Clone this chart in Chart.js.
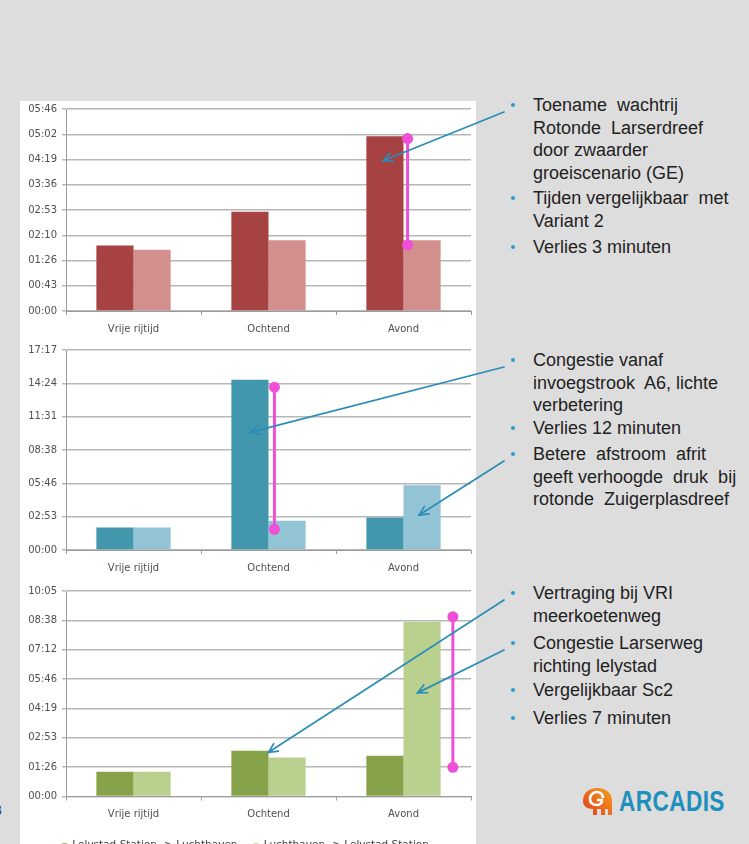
<!DOCTYPE html>
<html>
<head>
<meta charset="utf-8">
<script src="https://cdn.jsdelivr.net/npm/chart.js@4.4.1/dist/chart.umd.min.js"></script>
<style>
  html, body { margin: 0; padding: 0; }
  body {
    width: 749px; height: 844px; overflow: hidden; position: relative;
    background: #dddddd; font-family: "Liberation Sans", Arial, sans-serif;
  }
  #panel { position: absolute; left: 20px; top: 101px; width: 456px; height: 743px; background: #ffffff; }
  canvas.chart { position: absolute; left: 20px; }
  #overlay { position: absolute; left: 0; top: 0; pointer-events: none; z-index: 5; }
  .note {
    position: absolute; left: 511px; font-size: 18px; line-height: 22.5px;
    color: #222222; white-space: pre; z-index: 3;
  }
  .note .dot {
    position: absolute; left: 0; top: 9px; width: 4px; height: 4px;
    border-radius: 50%; background: #2a9dcc;
  }
  .note .txt { margin-left: 22px; }
  #slideno { position: absolute; left: -6px; top: 802px; font-size: 14px; color: #2244a0; }
  #logo { position: absolute; left: 581px; top: 786px; height: 30px; z-index: 3; }
  #logo svg { position: absolute; left: 0; top: 0; }
  #logo .name {
    position: absolute; left: 38px; top: -1px; font-size: 29px; font-weight: bold;
    color: #1d8fbc; transform: scaleX(0.78); transform-origin: 0 0; letter-spacing: 0.5px;
  }
</style>
</head>
<body>
<div id="panel"></div>
<canvas id="c1" class="chart" width="456" height="241" style="top:98px"></canvas>
<canvas id="c2" class="chart" width="456" height="239" style="top:339px"></canvas>
<canvas id="c3" class="chart" width="456" height="281" style="top:580px"></canvas>

<div class="note" id="n11" style="top:94px"><span class="dot"></span><div class="txt">Toename  wachtrij
Rotonde  Larserdreef
door zwaarder
groeiscenario (GE)</div></div>
<div class="note" style="top:187px"><span class="dot"></span><div class="txt">Tijden vergelijkbaar  met
Variant 2</div></div>
<div class="note" style="top:236px"><span class="dot"></span><div class="txt">Verlies 3 minuten</div></div>

<div class="note" id="n21" style="top:349px"><span class="dot"></span><div class="txt">Congestie vanaf
invoegstrook  A6, lichte
verbetering</div></div>
<div class="note" style="top:417px"><span class="dot"></span><div class="txt">Verlies 12 minuten</div></div>
<div class="note" id="n23" style="top:443px"><span class="dot"></span><div class="txt">Betere  afstroom  afrit
geeft verhoogde  druk  bij
rotonde  Zuigerplasdreef</div></div>

<div class="note" id="n31" style="top:582px"><span class="dot"></span><div class="txt">Vertraging bij VRI
meerkoetenweg</div></div>
<div class="note" id="n32" style="top:632px"><span class="dot"></span><div class="txt">Congestie Larserweg
richting lelystad</div></div>
<div class="note" style="top:679px"><span class="dot"></span><div class="txt">Vergelijkbaar Sc2</div></div>
<div class="note" style="top:707px"><span class="dot"></span><div class="txt">Verlies 7 minuten</div></div>

<div id="slideno">3</div>

<div id="logo">
  <svg width="34" height="30" viewBox="0 0 34 30">
    <defs>
      <linearGradient id="lg" x1="1" y1="0" x2="0" y2="1">
        <stop offset="0" stop-color="#f7a11c"/>
        <stop offset="1" stop-color="#e23b1f"/>
      </linearGradient>
    </defs>
    <path d="M2 15 C2 7 8 2 16 2 C25 2 31 7 31 15 L31 29 L27 29 L27 23 L24 23 L24 29 L20 29 L20 23 L16 23 L16 29 L12 29 L12 23 C6 23 2 20 2 15 Z" fill="url(#lg)"/>
    <path d="M22 12 C22 8 19 6 16 6 C12 6 9 9 9 13 C9 17 12 19 16 19 C19 19 21 17 21 14 L16 14" fill="none" stroke="#ffffff" stroke-width="2.6"/>
  </svg>
  <div class="name">ARCADIS</div>
</div>

<canvas id="overlay" width="749" height="844"></canvas>

<script>
// Categories and series
const categories = ['Vrije rijtijd', 'Ochtend', 'Avond'];
const seriesNames = ['Lelystad Station -> Luchthaven', 'Luchthaven -> Lelystad Station'];

// Travel times in seconds, per route
const route1Out  = [112, 170, 299];
const route1Back = [105, 121, 121];
const route2Out  = [117, 882, 169];
const route2Back = [117, 152, 336];
const route3Out  = [73, 135, 120];
const route3Back = [73, 115, 514];

// Vertical axis tick labels (mm:ss) and the spacing between them in seconds
const ticks1 = ['00:00', '00:43', '01:26', '02:10', '02:53', '03:36', '04:19', '05:02', '05:46'];
const step1 = 43.2;
const ticks2 = ['00:00', '02:53', '05:46', '08:38', '11:31', '14:24', '17:17'];
const step2 = 172.8;
const ticks3 = ['00:00', '01:26', '02:53', '04:19', '05:46', '07:12', '08:38', '10:05'];
const step3 = 86.4;

// Time lost (seconds, from - to) marked with a vertical span
const loss1 = [113, 295];   // Avond
const loss2 = [107, 844];   // Ochtend
const loss3 = [86, 529];    // Avond

// Values (seconds) where the callout arrows point into the bars
const callout1 = [257];        // route 1, Avond, outbound
const callout2 = [610, 181];   // route 2, Ochtend outbound / Avond return
const callout3 = [130, 305];   // route 3, Ochtend outbound / Avond return

const AXIS_FONT = { family: 'DejaVu Sans', size: 10 };
const AXIS_TEXT = '#505050';

const lossSpanPlugin = {
  id: 'lossSpan',
  afterDatasetsDraw(chart, args, o) {
    if (!o || !o.range) return;
    const bar = chart.getDatasetMeta(1).data[o.index];
    const x = bar.x - bar.width / 2 + o.xFrac * bar.width;
    const y = chart.scales.y;
    const y0 = y.getPixelForValue(o.range[0]);
    const y1 = y.getPixelForValue(o.range[1]);
    const ctx = chart.ctx;
    ctx.save();
    ctx.strokeStyle = o.color; ctx.fillStyle = o.color; ctx.lineWidth = 3;
    ctx.beginPath(); ctx.moveTo(x, y0); ctx.lineTo(x, y1); ctx.stroke();
    [y0, y1].forEach(yy => { ctx.beginPath(); ctx.arc(x, yy, 5.5, 0, Math.PI * 2); ctx.fill(); });
    ctx.restore();
  }
};

function makeChart(id, out, back, colors, tickLabels, step, cfg) {
  return new Chart(document.getElementById(id), {
    type: 'bar',
    data: {
      labels: categories,
      datasets: [
        { label: seriesNames[0], data: out, backgroundColor: colors[0], categoryPercentage: 0.55, barPercentage: 1 },
        { label: seriesNames[1], data: back, backgroundColor: colors[1], categoryPercentage: 0.55, barPercentage: 1 }
      ]
    },
    options: {
      responsive: false,
      animation: false,
      layout: { padding: { top: 7, right: 5, left: 0, bottom: 0 } },
      plugins: {
        tooltip: { enabled: false },
        legend: cfg.legend ? {
          display: true, position: 'bottom',
          labels: { boxWidth: 5, boxHeight: 5, padding: 16, font: { family: 'DejaVu Sans', size: 10.5 }, color: '#404040' }
        } : { display: false },
        lossSpan: cfg.span
      },
      scales: {
        x: {
          grid: { display: true, drawOnChartArea: false, drawTicks: true, tickLength: 4, color: '#9c9c9c', offset: true },
          border: { display: true, color: '#9c9c9c', width: 1 },
          ticks: { font: AXIS_FONT, color: AXIS_TEXT, padding: 8, maxRotation: 0 },
          afterFit(s) { s.height = 28; }
        },
        y: {
          min: 0,
          max: step * (tickLabels.length - 1),
          grid: { color: '#b7b7b7', lineWidth: 1.5, tickLength: 4, drawTicks: true },
          border: { display: true, color: '#9c9c9c', width: 1 },
          ticks: { font: AXIS_FONT, color: AXIS_TEXT, padding: 5, callback: (v, i) => tickLabels[i] },
          afterBuildTicks(s) { s.ticks = tickLabels.map((_, i) => ({ value: i * step })); },
          afterFit(s) { s.width = 46; }
        }
      }
    },
    plugins: [lossSpanPlugin]
  });
}

const PINK = '#ef4fd6';
const chart1 = makeChart('c1', route1Out, route1Back, ['#a64241', '#d38f8e'], ticks1, step1,
  { span: { index: 2, range: loss1, xFrac: 0.11, color: PINK } });
const chart2 = makeChart('c2', route2Out, route2Back, ['#4297ad', '#93c4d5'], ticks2, step2,
  { span: { index: 1, range: loss2, xFrac: 0.16, color: PINK } });
const chart3 = makeChart('c3', route3Out, route3Back, ['#87a34a', '#bad08f'], ticks3, step3,
  { legend: true, span: { index: 2, range: loss3, xFrac: 1.33, color: PINK } });

// Callout arrows from the bullet notes into the bars
function drawCallouts() {
  const ov = document.getElementById('overlay');
  const ctx = ov.getContext('2d');
  const arrows = [
    { note: 'n11', chart: chart1, ds: 0, index: 2, value: callout1[0], xFrac: 0.45 },
    { note: 'n21', chart: chart2, ds: 0, index: 1, value: callout2[0], xFrac: 0.5 },
    { note: 'n23', chart: chart2, ds: 1, index: 2, value: callout2[1], xFrac: 0.42 },
    { note: 'n31', chart: chart3, ds: 0, index: 1, value: callout3[0], xFrac: 1.0 },
    { note: 'n32', chart: chart3, ds: 1, index: 2, value: callout3[1], xFrac: 0.38 }
  ];
  ctx.strokeStyle = '#2b8db6';
  ctx.lineWidth = 1.7;
  ctx.lineCap = 'round';
  arrows.forEach(a => {
    const dot = document.querySelector('#' + a.note + ' .dot').getBoundingClientRect();
    const sx = dot.left - 7, sy = dot.top + dot.height / 2 + 7;
    const cv = a.chart.canvas;
    const bar = a.chart.getDatasetMeta(a.ds).data[a.index];
    const ex = cv.offsetLeft + bar.x - bar.width / 2 + a.xFrac * bar.width;
    const ey = cv.offsetTop + a.chart.scales.y.getPixelForValue(a.value);
    ctx.beginPath(); ctx.moveTo(sx, sy); ctx.lineTo(ex, ey); ctx.stroke();
    const ang = Math.atan2(ey - sy, ex - sx);
    const L = 10, spread = 0.45;
    ctx.beginPath();
    ctx.moveTo(ex - L * Math.cos(ang - spread), ey - L * Math.sin(ang - spread));
    ctx.lineTo(ex, ey);
    ctx.lineTo(ex - L * Math.cos(ang + spread), ey - L * Math.sin(ang + spread));
    ctx.stroke();
  });
}
drawCallouts();
</script>
</body>
</html>
